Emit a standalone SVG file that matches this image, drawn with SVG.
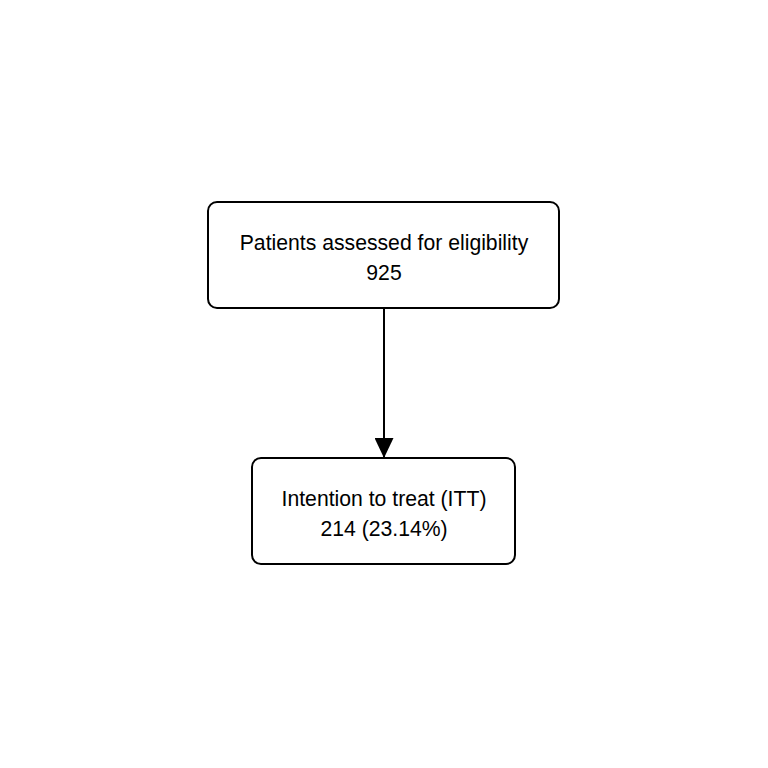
<svg xmlns="http://www.w3.org/2000/svg" width="768" height="768" viewBox="0 0 768 768">
<style>
.box{fill:#fff;stroke:#000;stroke-width:2}
.t{font-family:"Liberation Sans",Arial,sans-serif;font-size:21.2px;fill:#000;text-anchor:middle}
</style>
<defs>
<marker id="ah" markerWidth="20" markerHeight="19" refX="20" refY="9.5" orient="auto" markerUnits="userSpaceOnUse" viewBox="0 0 20 19">
<path d="M0,0 L20,9.5 L0,19 Z" fill="#000"/>
</marker>
</defs>
<rect width="768" height="768" fill="#fff"/>
<g id="connectors">
<line x1="384" y1="308" x2="384" y2="458" stroke="#000" stroke-width="2" marker-end="url(#ah)"/>
</g>
<g id="node1">
<rect class="box" x="208" y="202" width="351" height="106" rx="9"/>
<text class="t" x="384" y="249.5">Patients assessed for eligibility</text>
<text class="t" x="384" y="279.5">925</text>
</g>
<g id="node2">
<rect class="box" x="252" y="458" width="263" height="106" rx="9"/>
<text class="t" x="384" y="505.5">Intention to treat (ITT)</text>
<text class="t" x="384" y="535.5">214 (23.14%)</text>
</g>
</svg>
